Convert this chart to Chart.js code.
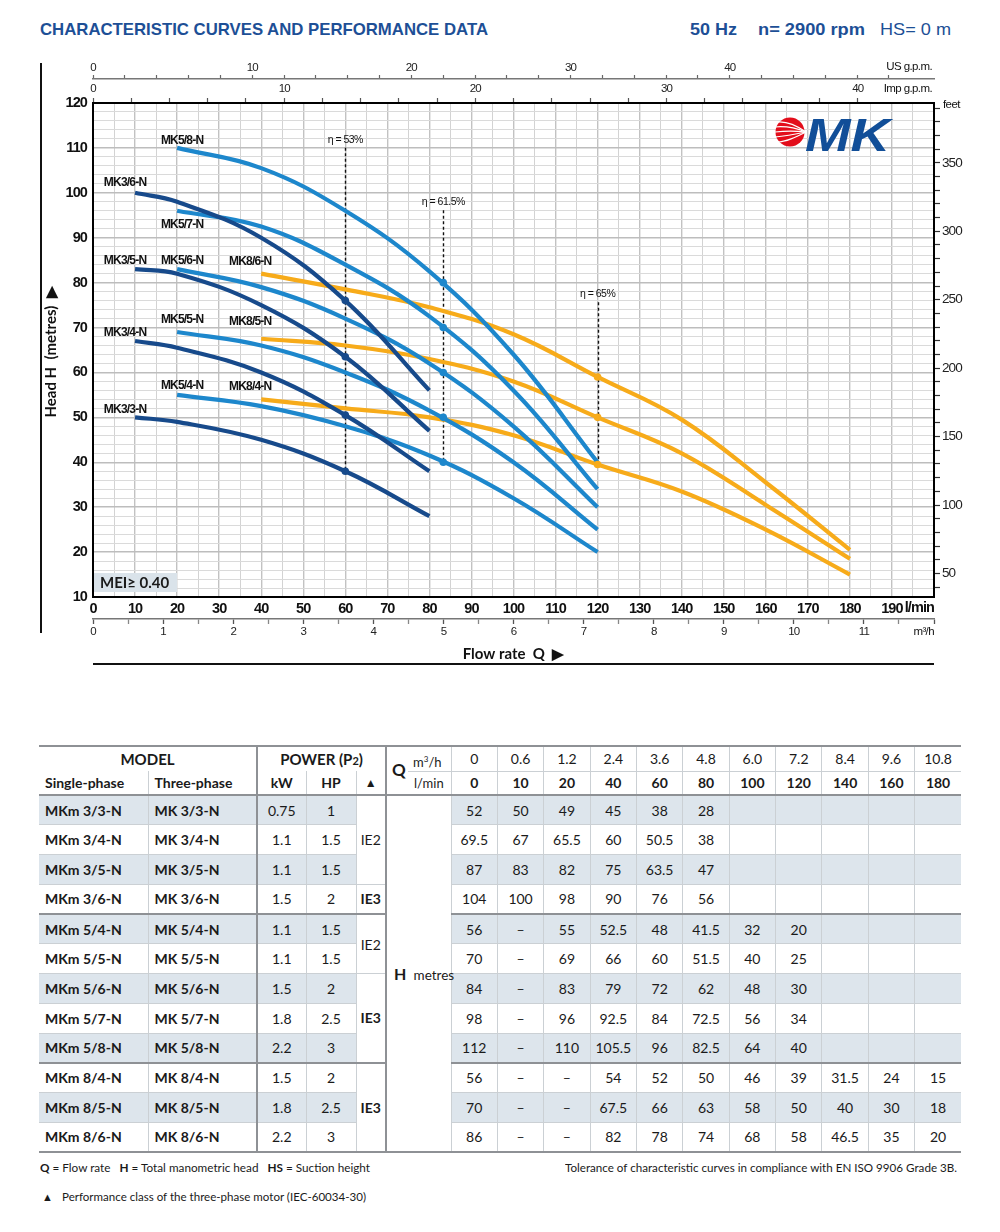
<!DOCTYPE html>
<html><head><meta charset="utf-8">
<script src="https://cdn.jsdelivr.net/npm/chart.js@4.4.1/dist/chart.umd.min.js"></script>
<style>
html,body{margin:0;padding:0;background:#fff;}
body{width:1000px;height:1232px;position:relative;overflow:hidden;font-family:Lato,"Open Sans",sans-serif;color:#1a1a1a;}
.abs{position:absolute;white-space:nowrap;transform-origin:0 50%;}
.hd{font-family:"Liberation Sans",Arial,sans-serif;font-weight:bold;font-size:17px;line-height:20px;color:#1d4f96;top:20px;}
#chartBox{position:absolute;left:0;top:40px;width:1000px;height:640px;}
#logo{position:absolute;left:769px;top:111px;}
#tbl{position:absolute;left:39px;top:745px;border-collapse:collapse;table-layout:fixed;width:922px;font-size:14px;color:#1a1a1a;}
#tbl td,#tbl th{padding:0;border:1px solid #cbd0d4;text-align:center;vertical-align:middle;white-space:nowrap;font-weight:normal;overflow:visible;}
#tbl th.b,#tbl td.b{font-weight:bold;}
#tbl .l{text-align:left;padding-left:6px;}
#tbl .sh{background:#dde5ec;}
#tbl .dl{border-left:2px solid #8e9195;}
#tbl tr.hr1{height:25px;}
#tbl tr.hr2{height:24px;}
#tbl .hr1 th{border-top:2px solid #8e9195;}
#tbl .hr2 th{border-bottom:2px solid #8e9195;}
#tbl .nb{border-bottom:none;}
#tbl .nt{border-top:none;}
#tbl .first{border-left:none;}
#tbl .last{border-right:none;}
#tbl tr.dr{height:29.75px;}
#tbl tr.ge td{border-bottom:2px solid #8e9195;}
#tbl th.hm{font-size:15px;font-weight:bold;}
.foot{font-size:12px;line-height:16px;}
</style></head>
<body>
<div class="abs hd" id="t1" style="left:40px;">CHARACTERISTIC CURVES AND PERFORMANCE DATA</div>
<div class="abs hd" id="t2" style="left:690px;">50 Hz</div>
<div class="abs hd" id="t3" style="left:758px;">n= 2900 rpm</div>
<div class="abs hd" id="t4" style="left:880px;font-weight:normal;">HS= 0 m</div>

<div id="chartBox"><canvas id="c"></canvas></div>

<svg id="logo" width="130" height="46" viewBox="0 0 130 46">
 <circle cx="21" cy="21" r="14.5" fill="#e30d1b"/>
 <g stroke="#fff" stroke-width="1.2" fill="none">
  <path d="M37 21 C 27 14, 17 10, 8 11"/>
  <path d="M37 21 C 27 17, 16 15, 6 16"/>
  <path d="M37 21 C 27 20, 16 20, 6 21"/>
  <path d="M37 21 C 27 23, 16 25, 6 26"/>
  <path d="M37 21 C 27 26, 17 31, 8 31"/>
 </g>
 <text x="36" y="40" font-family="Liberation Sans, Arial, sans-serif" font-weight="bold" font-style="italic" font-size="46" fill="#114e98" textLength="85" lengthAdjust="spacingAndGlyphs">MK</text>
</svg>

<table id="tbl"></table>

<div class="abs foot" id="f1" style="left:40px;top:1160px;"><b>Q</b> = Flow rate&nbsp;&nbsp; <b>H</b> = Total manometric head&nbsp;&nbsp; <b>HS</b> = Suction height</div>
<div class="abs foot" id="f2" style="left:565px;top:1160px;">Tolerance of characteristic curves in compliance with EN ISO 9906 Grade 3B.</div>
<div class="abs foot" style="left:42px;top:1189px;font-size:11px;">▲</div>
<div class="abs foot" id="f3" style="left:62px;top:1189px;">Performance class of the three-phase motor (IEC-60034-30)</div>

<script>
// ================= DATA =================
const flowLmin = [0, 10, 20, 40, 60, 80, 100, 120, 140, 160, 180];
const flowM3h = ['0', '0.6', '1.2', '2.4', '3.6', '4.8', '6.0', '7.2', '8.4', '9.6', '10.8'];

const singlePhase = ['MKm 3/3-N','MKm 3/4-N','MKm 3/5-N','MKm 3/6-N','MKm 5/4-N','MKm 5/5-N','MKm 5/6-N','MKm 5/7-N','MKm 5/8-N','MKm 8/4-N','MKm 8/5-N','MKm 8/6-N'];
const threePhase = ['MK 3/3-N','MK 3/4-N','MK 3/5-N','MK 3/6-N','MK 5/4-N','MK 5/5-N','MK 5/6-N','MK 5/7-N','MK 5/8-N','MK 8/4-N','MK 8/5-N','MK 8/6-N'];
const curveNames = ['MK3/3-N','MK3/4-N','MK3/5-N','MK3/6-N','MK5/4-N','MK5/5-N','MK5/6-N','MK5/7-N','MK5/8-N','MK8/4-N','MK8/5-N','MK8/6-N'];
const family = [0,0,0,0,1,1,1,1,1,2,2,2];
const powerKW = ['0.75','1.1','1.1','1.5','1.1','1.1','1.5','1.8','2.2','1.5','1.8','2.2'];
const powerHP = ['1','1.5','1.5','2','1.5','1.5','2','2.5','3','2','2.5','3'];
const motorClass = ['IE2','IE2','IE2','IE3','IE2','IE2','IE3','IE3','IE3','IE3','IE3','IE3'];

// table: head (m) at flowLmin; null = "–", missing = blank
const headMK3_3 = [52, 50, 49, 45, 38, 28];
const headMK3_4 = [69.5, 67, 65.5, 60, 50.5, 38];
const headMK3_5 = [87, 83, 82, 75, 63.5, 47];
const headMK3_6 = [104, 100, 98, 90, 76, 56];
const headMK5_4 = [56, null, 55, 52.5, 48, 41.5, 32, 20];
const headMK5_5 = [70, null, 69, 66, 60, 51.5, 40, 25];
const headMK5_6 = [84, null, 83, 79, 72, 62, 48, 30];
const headMK5_7 = [98, null, 96, 92.5, 84, 72.5, 56, 34];
const headMK5_8 = [112, null, 110, 105.5, 96, 82.5, 64, 40];
const headMK8_4 = [56, null, null, 54, 52, 50, 46, 39, 31.5, 24, 15];
const headMK8_5 = [70, null, null, 67.5, 66, 63, 58, 50, 40, 30, 18];
const headMK8_6 = [86, null, null, 82, 78, 74, 68, 58, 46.5, 35, 20];
const allHeads = [headMK3_3, headMK3_4, headMK3_5, headMK3_6, headMK5_4, headMK5_5, headMK5_6, headMK5_7, headMK5_8, headMK8_4, headMK8_5, headMK8_6];

// chart: MK8 curves as drawn in the graph (flows 40..180)
const curveFlowMK8 = [40, 60, 80, 100, 120, 140, 160, 180];
const curveMK8_4 = [54, 52, 50, 46, 39.5, 33.5, 25, 15];
const curveMK8_5 = [67.5, 66, 63, 58, 50, 42, 30.5, 18.5];
const curveMK8_6 = [82, 78.5, 74.5, 68.5, 59, 49.5, 35.5, 20.5];
const curveMK8 = [curveMK8_4, curveMK8_5, curveMK8_6];

// efficiency markers
const etaLabels = ['η = 53%', 'η = 61.5%', 'η = 65%'];
const etaFlow = [60, 83.3, 120];          // l/min, per family
const etaHeads = [38, 50.5, 63.5, 76, 40, 50, 60, 70, 80, 39.5, 50, 59];

// axis tick values
const feetTicks = [40,50,60,70,80,90,100,110,120,130,140,150,160,170,180,190,200,210,220,230,240,250,260,270,280,290,300,310,320,330,340,350,360,370,380,390];

// ================= STYLE =================
const CHF = '"Liberation Sans",Arial,sans-serif';
const SANS = 'Lato,"Open Sans",sans-serif';
const familyColor = ['#174a8b', '#1d87cc', '#f7ab1a'];
const familyOrder = [1, 2, 3];
const labelOffset = [[-10,-8],[-10,-8],[-10,-8],[-10,-10],[5,-9],[5,-12],[5,-8],[5,14],[5,-7],[-11,-13],[-11,-17],[-11,-12]];
const etaLabelHead = [111.8, 97.9, 77.4];

// ================= CHART =================
const datasets = [];
datasets.push({
  type: 'scatter', label: 'eta', order: 0,
  data: etaHeads.map((h, i) => ({x: etaFlow[family[i]], y: h})),
  pointRadius: 3.8, pointBorderWidth: 0,
  pointBackgroundColor: etaHeads.map((h, i) => familyColor[family[i]]),
  xAxisID: 'x', yAxisID: 'y'
});
allHeads.forEach((arr, i) => {
  const pts = [];
  if (family[i] === 2) {
    curveMK8[i - 9].forEach((h, k) => pts.push({x: curveFlowMK8[k], y: h}));
  } else {
    arr.forEach((h, k) => { if (k > 0 && h !== null && h !== undefined) pts.push({x: flowLmin[k], y: h}); });
  }
  datasets.push({
    type: 'line', label: curveNames[i], data: pts, order: familyOrder[family[i]],
    borderColor: familyColor[family[i]], borderWidth: 4.2, pointRadius: 0,
    tension: 0.4, fill: false, xAxisID: 'x', yAxisID: 'y'
  });
});

function txt(ctx, s, x, y, font, align, spacing) {
  ctx.font = font; ctx.textAlign = align; ctx.letterSpacing = spacing || '0px';
  ctx.fillText(s, x, y);
}

const decor = {
  id: 'decor',
  beforeDraw(chart) { chart.ctx.letterSpacing = '-0.9px'; },
  beforeDatasetsDraw(chart) {
    const {ctx, chartArea: ca, scales} = chart;
    const x = scales.x, y = scales.y;
    ctx.save();
    // MEI box
    ctx.fillStyle = '#dae3ea';
    ctx.fillRect(ca.left + 1, ca.bottom - 24, 83, 19);
    ctx.fillStyle = '#1a1a1a'; ctx.textBaseline = 'middle';
    txt(ctx, 'MEI≥ 0.40', ca.left + 7, ca.bottom - 14, 'bold 15px ' + SANS, 'left', '0px');
    // eta dashed lines
    ctx.strokeStyle = '#111'; ctx.lineWidth = 1.4; ctx.setLineDash([3, 2.5]);
    etaFlow.forEach((f, k) => {
      const heads = etaHeads.filter((h, i) => family[i] === k);
      const px = Math.round(x.getPixelForValue(f)) + 0.5;
      ctx.beginPath();
      ctx.moveTo(px, y.getPixelForValue(etaLabelHead[k]) + 8);
      ctx.lineTo(px, y.getPixelForValue(Math.min(...heads)));
      ctx.stroke();
    });
    ctx.restore();
  },
  afterDraw(chart) {
    const {ctx, chartArea: ca, scales} = chart;
    const x = scales.x, y = scales.y;
    ctx.save();
    ctx.fillStyle = '#111'; ctx.textBaseline = 'middle';
    // eta labels
    etaFlow.forEach((f, k) => txt(ctx, etaLabels[k], x.getPixelForValue(f), y.getPixelForValue(etaLabelHead[k]), '10.5px ' + CHF, 'center', '-0.5px'));
    // series labels
    chart.data.datasets.forEach((ds, di) => {
      if (di === 0) return;
      const i = di - 1, p = ds.data[0];
      txt(ctx, curveNames[i], x.getPixelForValue(p.x) + labelOffset[i][0], y.getPixelForValue(p.y) + labelOffset[i][1], 'bold 12px ' + CHF, 'center', '-0.8px');
    });
    // unit texts
    txt(ctx, 'l/min', ca.right, 568, 'bold 14.5px ' + CHF, 'right', '-0.9px');
    txt(ctx, 'm³/h', ca.right, 592, '11.5px ' + CHF, 'right', '-0.6px');
    txt(ctx, 'US g.p.m.', ca.right - 2, 27, '11.5px ' + CHF, 'right', '-0.6px');
    txt(ctx, 'Imp g.p.m.', ca.right - 2, 49, '11.5px ' + CHF, 'right', '-0.6px');
    txt(ctx, 'feet', ca.right + 9, 65, '11.5px ' + CHF, 'left', '-0.6px');
    // axis titles
    ctx.save();
    ctx.translate(51, (ca.top + ca.bottom) / 2 + 2);
    ctx.rotate(-Math.PI / 2);
    txt(ctx, 'Head H  (metres)  ▶', 0, 0, 'bold 15px ' + SANS, 'center', '0px');
    ctx.restore();
    txt(ctx, 'Flow rate  Q  ▶', (ca.left + ca.right) / 2, 614, 'bold 15px ' + SANS, 'center', '0px');
    // frame lines
    ctx.strokeStyle = '#111'; ctx.lineWidth = 2;
    ctx.beginPath(); ctx.moveTo(41, 23); ctx.lineTo(41, 593); ctx.stroke();
    ctx.beginPath(); ctx.moveTo(ca.left, 624); ctx.lineTo(ca.right, 624); ctx.stroke();
    ctx.restore();
    ctx.letterSpacing = '0px';
  }
};

const even2 = s => { s.ticks = s.ticks.filter(t => Math.abs(t.value / 2 - Math.round(t.value / 2)) < 1e-6); };

new Chart(document.getElementById('c'), {
  type: 'line',
  data: {datasets},
  plugins: [decor],
  options: {
    responsive: true, maintainAspectRatio: false, animation: false,
    layout: {padding: {left: 38, right: 26, top: 19, bottom: 17}},
    plugins: {legend: {display: false}, tooltip: {enabled: false}},
    scales: {
      x: {
        type: 'linear', position: 'bottom', min: 0, max: 200, weight: 0,
        afterFit: s => { s.height = 22; },
        ticks: {stepSize: 5, autoSkip: false, maxRotation: 0, padding: 3, color: '#111',
          font: {family: CHF, size: 14.5, weight: 'bold'},
          callback: v => (v % 10 === 0 && v < 200) ? String(v) : ''},
        grid: {drawTicks: false,
          color: c => (c.tick && c.tick.value % 10 === 0) ? '#c2c2c2' : '#d3d3d3',
          lineWidth: c => (c.tick && c.tick.value % 10 === 0) ? 1.4 : 1},
        border: {color: '#000', width: 2}
      },
      xm3: {
        type: 'linear', position: 'bottom', min: 0, max: 12, weight: 1,
        afterFit: s => { s.height = 44; },
        ticks: {stepSize: 0.5, autoSkip: false, maxRotation: 0, padding: 1, color: '#222',
          font: {family: CHF, size: 11.5},
          callback: v => (Number.isInteger(v) && v < 12) ? String(v) : ''},
        grid: {drawOnChartArea: false, drawTicks: true, tickLength: 5, tickColor: c => (c.tick && Number.isInteger(c.tick.value)) ? '#555' : '#888', tickWidth: 1.3},
        border: {color: '#777', width: 1.5}
      },
      imp: {
        type: 'linear', position: 'top', min: 0, max: 200 / 4.54609, weight: 0,
        afterFit: s => { s.height = 24; }, afterBuildTicks: even2,
        ticks: {stepSize: 2, autoSkip: false, maxRotation: 0, padding: 2, color: '#222',
          font: {family: CHF, size: 11.5},
          callback: v => (v % 10 === 0) ? String(v) : ''},
        grid: {drawOnChartArea: false, tickLength: 5, tickColor: '#555', tickWidth: 1.2},
        border: {color: '#000', width: 2}
      },
      us: {
        type: 'linear', position: 'top', min: 0, max: 200 / 3.78541, weight: 1,
        afterFit: s => { s.height = 20; }, afterBuildTicks: even2,
        ticks: {stepSize: 2, autoSkip: false, maxRotation: 0, padding: 0, color: '#222',
          font: {family: CHF, size: 11.5},
          callback: v => (v % 10 === 0 && v <= 40) ? String(v) : ''},
        grid: {drawOnChartArea: false, tickLength: 4, tickColor: '#666', tickWidth: 1.2},
        border: {color: '#777', width: 1.5}
      },
      y: {
        type: 'linear', position: 'left', min: 10, max: 120,
        afterFit: s => { s.width = 55; },
        ticks: {stepSize: 2, autoSkip: false, padding: 6, color: '#111',
          font: {family: CHF, size: 14.5, weight: 'bold'},
          callback: v => (v % 10 === 0) ? String(v) : ''},
        grid: {drawTicks: false,
          color: c => (c.tick && c.tick.value % 10 === 0) ? '#bdbdbd' : '#dadada',
          lineWidth: c => (c.tick && c.tick.value % 10 === 0) ? 1.5 : 1},
        border: {color: '#000', width: 2}
      },
      feet: {
        type: 'linear', position: 'right', min: 10 / 0.3048, max: 120 / 0.3048,
        afterFit: s => { s.width = 40; },
        afterBuildTicks: s => { s.ticks = feetTicks.map(v => ({value: v})); },
        ticks: {autoSkip: false, padding: 2, color: '#222', font: {family: CHF, size: 13.5},
          callback: v => (v % 50 === 0) ? String(v) : ''},
        grid: {drawOnChartArea: false, tickLength: 6, tickColor: '#333', tickWidth: 1.2},
        border: {color: '#000', width: 2}
      }
    }
  }
});

// ================= TABLE =================
(function buildTable() {
  const colW = [109, 109, 49, 50, 30, 65];
  let h = '<colgroup>' + colW.map(w => `<col style="width:${w}px">`).join('') +
          flowLmin.map(() => '<col style="width:46.36px">').join('') + '</colgroup>';
  h += '<tr class="hr1"><th colspan="2" class="hm first nb">MODEL</th>' +
       '<th colspan="3" class="hm dl nb">POWER (P<span style="font-size:11px">2</span>)</th>' +
       '<th rowspan="2" class="dl" style="border-bottom:2px solid #8e9195;">' +
         '<div style="position:relative;height:46px;">' +
           '<div style="position:absolute;left:5px;top:12px;font-weight:bold;font-size:17px;line-height:20px;">Q</div>' +
           '<div style="position:absolute;left:21px;right:0;top:0;height:23px;line-height:23px;border-bottom:1px solid #cbd0d4;text-align:left;padding-left:5px;font-size:13px;">m<sup style="font-size:8px">3</sup>/h</div>' +
           '<div style="position:absolute;left:21px;right:0;top:24px;height:23px;line-height:23px;text-align:left;padding-left:6px;font-size:13px;">l/min</div>' +
         '</div></th>' +
       flowM3h.map((q, k) => `<th class="${k === flowM3h.length - 1 ? 'last' : ''}">${q}</th>`).join('') + '</tr>';
  h += '<tr class="hr2"><th class="b l first nt">Single-phase</th><th class="b l nt">Three-phase</th>' +
       '<th class="b dl nt">kW</th><th class="b nt">HP</th><th class="b nt" style="font-size:12px">▲</th>' +
       flowLmin.map((q, k) => `<th class="b ${k === flowLmin.length - 1 ? 'last' : ''}">${q}</th>`).join('') + '</tr>';
  const fam = s => s.split(' ')[1].split('/')[0];
  const n = singlePhase.length;
  for (let r = 0; r < n; r++) {
    const groupEnd = (r === n - 1) || fam(threePhase[r]) !== fam(threePhase[r + 1]);
    const sh = (r % 2 === 0) ? ' sh' : '';
    let row = `<tr class="dr${groupEnd ? ' ge' : ''}">`;
    row += `<td class="b l first${sh}">${singlePhase[r]}</td><td class="b l${sh}">${threePhase[r]}</td>`;
    row += `<td class="dl${sh}">${powerKW[r]}</td><td class="${sh}">${powerHP[r]}</td>`;
    const startsGroup = r === 0 || motorClass[r] !== motorClass[r - 1] || fam(threePhase[r]) !== fam(threePhase[r - 1]);
    if (startsGroup) {
      let span = 1;
      while (r + span < n && motorClass[r + span] === motorClass[r] && fam(threePhase[r + span]) === fam(threePhase[r])) span++;
      const lastRow = r + span - 1;
      const ge = lastRow === n - 1 || fam(threePhase[lastRow]) !== fam(threePhase[lastRow + 1]);
      row += `<td rowspan="${span}" class="${motorClass[r] === 'IE3' ? 'b' : ''}" style="background:#fff;${ge ? 'border-bottom:2px solid #8e9195;' : ''}">${motorClass[r]}</td>`;
    }
    if (r === 0) {
      row += `<td rowspan="${n}" class="dl" style="background:#fff;text-align:left;padding-left:7px;border-bottom:2px solid #8e9195;"><span style="font-weight:bold;font-size:16px;">H</span>&nbsp; <span style="font-size:13.5px">metres</span></td>`;
    }
    const arr = allHeads[r];
    flowLmin.forEach((q, k) => {
      let v = '';
      if (k < arr.length) v = (arr[k] === null) ? '–' : String(arr[k]);
      row += `<td class="${sh}${k === flowLmin.length - 1 ? ' last' : ''}">${v}</td>`;
    });
    row += '</tr>';
    h += row;
  }
  document.getElementById('tbl').innerHTML = h;
})();

// ================= TEXT WIDTH FITTING =================
function fit(id, w) {
  const el = document.getElementById(id);
  el.style.transform = 'none';
  const r = el.getBoundingClientRect().width;
  if (r > 0) el.style.transform = `scaleX(${w / r})`;
}
function fitAll() {
  fit('t1', 448); fit('t2', 47); fit('t3', 107); fit('t4', 71);
  fit('f1', 330); fit('f2', 392); fit('f3', 304);
}
fitAll();
if (document.fonts && document.fonts.ready) document.fonts.ready.then(fitAll);
</script>
</body></html>
